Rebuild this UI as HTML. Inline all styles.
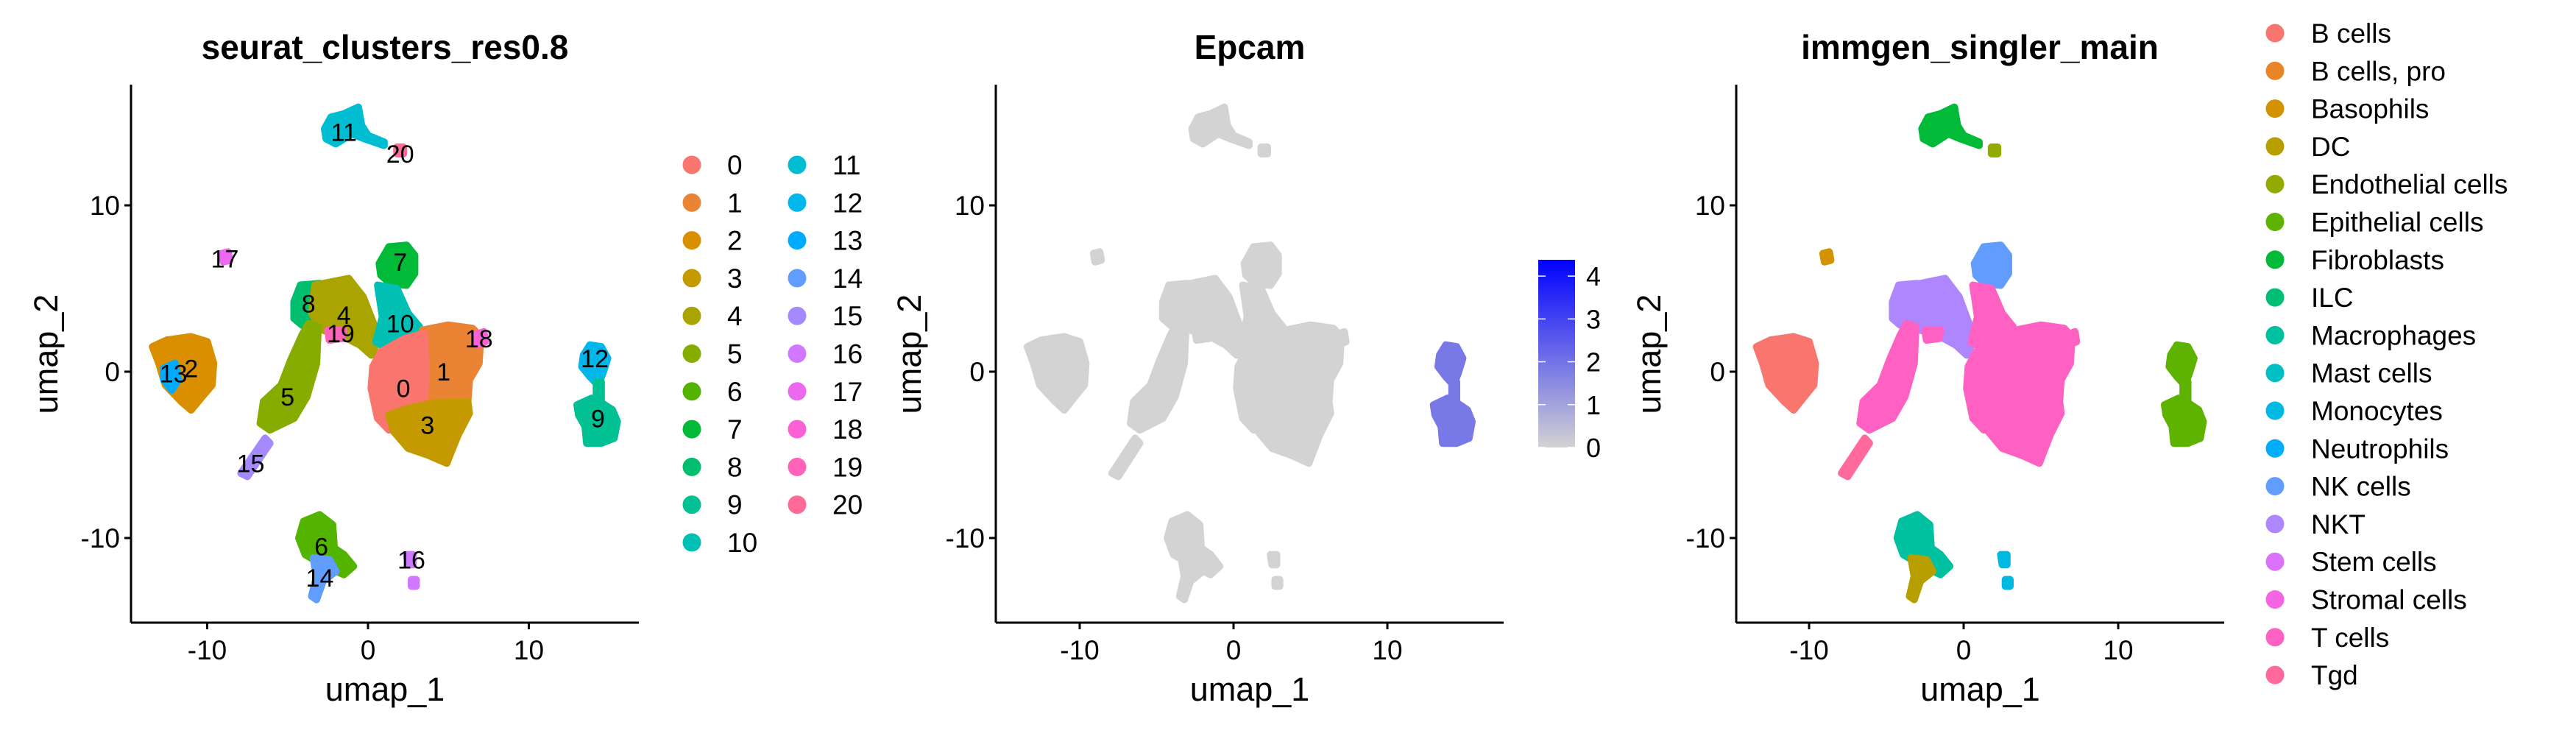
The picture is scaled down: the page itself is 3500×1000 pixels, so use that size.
<!DOCTYPE html>
<html><head><meta charset="utf-8"><style>
html,body{margin:0;padding:0;background:#fff}
svg{display:block;font-family:"Liberation Sans",Arial,sans-serif}
</style></head><body>
<svg id="fig" width="3500" height="1000" viewBox="0 0 3500 1000" xmlns="http://www.w3.org/2000/svg"></svg>
<script>
// ---- data ----
const clusterIds = ["0","1","2","3","4","5","6","7","8","9","10","11","12","13","14","15","16","17","18","19","20"];
const cellTypes = ["B cells","B cells, pro","Basophils","DC","Endothelial cells","Epithelial cells","Fibroblasts","ILC","Macrophages","Mast cells","Monocytes","Neutrophils","NK cells","NKT","Stem cells","Stromal cells","T cells","Tgd"];
const xTicks = [-10,0,10];
const yTicks = [-10,0,10];
const colorbarTicks = [0,1,2,3,4];
// cluster outlines in UMAP coordinates (cluster, polygon)
const shapeCluster = [2,13,11,20,17,7,8,4,10,5,15,1,0,3,18,19,12,9,9,6,14,16,16];
const shapePolys = [
 [[-13.4,1.5],[-12.5,1.9],[-11,2.1],[-10,1.8],[-9.6,0.5],[-9.7,-0.8],[-10.4,-1.6],[-11,-2.3],[-11.6,-1.8],[-12.6,-0.8],[-13,0.5]],
 [[-12.7,0.2],[-12,0.5],[-11.8,-0.5],[-12.2,-1.1],[-12.7,-0.5]],
 [[-2.7,14.6],[-2.3,15.3],[-1.5,15.5],[-0.6,15.9],[-0.4,14.8],[0,14.2],[1.0,13.8],[1.0,13.6],[-0.2,14.0],[-1,14.3],[-2,13.7],[-2.6,14.0]],
 [[1.8,13.5],[2.2,13.5],[2.2,13.1],[1.8,13.1]],
 [[-9.1,7.1],[-8.7,7.2],[-8.6,6.7],[-9.0,6.6]],
 [[0.7,6.5],[1.3,7.5],[2.4,7.6],[2.9,7.0],[2.9,5.9],[2.4,5.2],[1.4,5.3],[0.8,5.8]],
 [[-4.6,4.2],[-4.2,5.2],[-3.0,5.3],[-2.5,4.2],[-3.0,3.0],[-4.1,2.8],[-4.6,3.2]],
 [[-3.3,5.2],[-1.2,5.6],[-0.3,4.5],[0.7,2.0],[0.2,1.0],[-0.5,1.6],[-1.5,2.1],[-2.8,2.5],[-3.5,3.5]],
 [[0.6,5.2],[1.8,5.0],[2.5,3.5],[3.2,2.7],[3.0,1.6],[1.3,1.3],[0.5,1.8],[0.9,3.3]],
 [[-3.7,2.9],[-3.1,2.7],[-3.2,0.5],[-3.8,-1.5],[-4.6,-2.8],[-6.1,-3.5],[-6.7,-3.1],[-6.5,-1.8],[-5.4,-0.8],[-4.8,0.7],[-4.1,2.2]],
 [[-6.4,-4.0],[-6.1,-4.3],[-7.5,-6.3],[-7.9,-6.1]],
 [[3.4,2.5],[5,2.8],[6.5,2.6],[7,2.1],[6.9,0.5],[6.3,-0.5],[6.2,-1.8],[4.5,-2.2],[3.5,-1.8],[3.3,0.5]],
 [[0.8,1.2],[2.3,2.0],[3.5,2.3],[3.6,0],[3.5,-1.8],[2.2,-2.8],[1.3,-3.5],[0.6,-2.8],[0.2,-1.0],[0.3,0.3]],
 [[1.3,-2.6],[2.5,-2.2],[4,-1.9],[6.2,-1.8],[6.3,-2.5],[5.6,-3.8],[5.1,-5.0],[4.9,-5.5],[3.7,-5.0],[2.5,-4.6],[1.6,-3.6]],
 [[6.6,2.2],[7.2,2.4],[7.3,1.8],[6.8,1.6]],
 [[-2.5,2.5],[-1.5,2.5],[-1.6,2.0],[-2.4,1.9]],
 [[13.4,1.0],[13.8,1.6],[14.5,1.5],[14.9,0.8],[14.6,-0.1],[14.3,-0.8],[13.8,-0.3],[13.3,0.3]],
 [[13.0,-2.0],[13.9,-1.6],[14.4,-1.8],[15.2,-2.3],[15.5,-3.0],[15.3,-4.0],[14.5,-4.3],[13.6,-4.3],[13.5,-3.3],[13.1,-2.6]],
 [[14.2,-0.6],[14.5,-0.6],[14.5,-1.8],[14.2,-1.8]],
 [[-4.3,-10.0],[-4.0,-9.0],[-3.0,-8.6],[-2.2,-9.2],[-2.1,-10.6],[-1.5,-11.0],[-0.9,-11.7],[-1.5,-12.2],[-2.8,-11.6],[-3.9,-11.0]],
 [[-3.4,-11.2],[-2.4,-11.3],[-2.0,-12.0],[-2.8,-12.6],[-3.2,-13.7],[-3.5,-13.5],[-3.2,-12.3]],
 [[2.4,-11.0],[2.8,-11.0],[2.8,-11.6],[2.5,-11.6]],
 [[2.7,-12.5],[3.0,-12.5],[3.0,-12.9],[2.7,-12.9]]
];
// cluster -> cell type index (panel 3)
const clusterCellType = [16,16,0,16,13,16,8,12,13,5,16,6,5,0,3,17,10,2,16,16,4];
// cluster -> mean Epcam expression (panel 2)
const clusterEpcam = [0,0,0,0,0,0,0,0,0,1.9,0,0,1.9,0,0,0,0,0,0,0,0];
// cluster label positions
const labelCluster = [11,20,17,7,8,4,19,10,18,12,2,13,1,0,5,3,9,15,6,16,14];
const labelX = [-1.5,2,-8.9,2,-3.7,-1.5,-1.7,2,6.9,14.1,-11,-12.1,4.7,2.2,-5,3.7,14.3,-7.3,-2.9,2.7,-3];
const labelY = [14.4,13.1,6.8,6.6,4.1,3.4,2.3,2.9,2.0,0.8,0.2,-0.1,0,-1.0,-1.5,-3.2,-2.8,-5.5,-10.5,-11.3,-12.4];

// ---- helpers ----
const NS="http://www.w3.org/2000/svg", svg=document.getElementById('fig');
function el(tag,attrs,parent){const e=document.createElementNS(NS,tag);for(const k in attrs)e.setAttribute(k,attrs[k]);(parent||svg).appendChild(e);return e;}
function hcl(h,c,l){const r=h*Math.PI/180,u=c*Math.cos(r),v=c*Math.sin(r);const Xn=95.047,Yn=100,Zn=108.883;const d=Xn+15*Yn+3*Zn,un=4*Xn/d,vn=9*Yn/d;const Y=Yn*Math.pow((l+16)/116,3);const up=u/(13*l)+un,vp=v/(13*l)+vn;const X=Y*9*up/(4*vp),Z=Y*(12-3*up-20*vp)/(4*vp);const x=X/100,y=Y/100,z=Z/100;let R=3.2406*x-1.5372*y-0.4986*z,G=-0.9689*x+1.8758*y+0.0415*z,B=0.0557*x-0.2040*y+1.0570*z;const g=t=>{t=t<=0.0031308?12.92*t:1.055*Math.pow(t,1/2.4)-0.055;return Math.round(Math.max(0,Math.min(1,t))*255);};return `rgb(${g(R)},${g(G)},${g(B)})`;}
function huePal(n){const a=[];for(let i=0;i<n;i++)a.push(hcl(15+360*i/n,100,65));return a;}
const pal1=huePal(clusterIds.length), pal3=huePal(cellTypes.length);
function epCol(v){const t=Math.min(1,v/4.4);const a=[211,211,211],b=[0,0,255];return `rgb(${a.map((x,i)=>Math.round(x+(b[i]-x)*t)).join(',')})`;}

function panel(o){
  const g=el('g',{});
  const sx=v=>o.x0+v*o.kx, sy=v=>o.y0-v*o.ky;
  shapePolys.forEach((p,i)=>{const c=shapeCluster[i];const poly=el('polygon',{points:p.map(q=>sx(q[0]).toFixed(1)+','+sy(q[1]).toFixed(1)).join(' '),fill:o.color(c),stroke:o.color(c),'stroke-width':10,'stroke-linejoin':'round'},g);
    
    });
  el('line',{x1:o.ax,y1:115,x2:o.ax,y2:o.ay,stroke:'#000','stroke-width':3,},g);
  el('line',{x1:o.ax,y1:o.ay,x2:o.axEnd,y2:o.ay,stroke:'#000','stroke-width':3,},g);
  xTicks.forEach(t=>{el('line',{x1:sx(t),y1:o.ay,x2:sx(t),y2:o.ay+9,stroke:'#000','stroke-width':3},g);
    const tx=el('text',{x:sx(t),y:o.ay+50,'font-size':37,'text-anchor':'middle',fill:'#000'},g);tx.textContent=t;
    });
  yTicks.forEach(t=>{el('line',{x1:o.ax-9,y1:sy(t),x2:o.ax,y2:sy(t),stroke:'#000','stroke-width':3},g);
    const tx=el('text',{x:o.ax-15,y:sy(t)+13,'font-size':37,'text-anchor':'end',fill:'#000'},g);tx.textContent=t;
    });
  const xt=el('text',{x:(o.ax+o.axEnd)/2,y:952,'font-size':45,'text-anchor':'middle',},g);xt.textContent='umap_1';
  const yt=el('text',{x:o.ytx,y:481,'font-size':45,'text-anchor':'middle',transform:`rotate(-90 ${o.ytx} 481)`,},g);yt.textContent='umap_2';
  const tt=el('text',{x:o.tx,y:80,'font-size':46,'font-weight':'bold','text-anchor':'middle',},g);tt.textContent=o.title;
  return {g,sx,sy};
}

// Panel 1
const p1=panel({name:'panel-seurat-clusters',x0:500,kx:21.85,y0:505,ky:22.6,ax:178,ay:846,axEnd:868,ytx:78,tx:523,title:'seurat_clusters_res0.8',color:c=>pal1[c]});
labelCluster.forEach((c,i)=>{const t=el('text',{x:p1.sx(labelX[i]),y:p1.sy(labelY[i])+12,'font-size':34,'text-anchor':'middle',fill:'#000'},p1.g);t.textContent=clusterIds[c];
  });
clusterIds.forEach((id,i)=>{const col=i<11?0:1,row=i<11?i:i-11;const cx=940+col*143,cy=224+row*51.3;
  const lg=el('g',{},svg);
  el('circle',{cx:cx,cy:cy,r:12.5,fill:pal1[i]},lg);
  const t=el('text',{x:cx+48,y:cy+13,'font-size':37},lg);t.textContent=id;});

// Panel 2
const p2=panel({name:'panel-epcam',x0:1676,kx:20.9,y0:505,ky:22.6,ax:1353,ay:846,axEnd:2043,ytx:1251,tx:1698,title:'Epcam',color:c=>epCol(clusterEpcam[c])});
const defs=el('defs',{});const lgd=el('linearGradient',{id:'epg',x1:0,y1:1,x2:0,y2:0},defs);
el('stop',{offset:0,'stop-color':'#d3d3d3'},lgd);el('stop',{offset:1,'stop-color':'#0000ff'},lgd);
const cbTop=353,cbBot=608,cbMax=4.38;const cbY=v=>cbBot-(cbBot-cbTop)*v/cbMax;
el('rect',{x:2090,y:cbTop,width:50,height:cbBot-cbTop,fill:'url(#epg)',});
colorbarTicks.forEach(v=>{el('line',{x1:2090,y1:cbY(v),x2:2100,y2:cbY(v),stroke:'#fff','stroke-width':1.5});el('line',{x1:2130,y1:cbY(v),x2:2140,y2:cbY(v),stroke:'#fff','stroke-width':1.5});
  const t=el('text',{x:2155,y:cbY(v)+13,'font-size':36});t.textContent=v;});

// Panel 3
const p3=panel({name:'panel-immgen-singler',x0:2668,kx:21,y0:505,ky:22.6,ax:2359,ay:846,axEnd:3022,ytx:2256,tx:2690,title:'immgen_singler_main',color:c=>pal3[clusterCellType[c]]});
cellTypes.forEach((n,i)=>{const cx=3091,cy=45+i*51.3;
  const lg=el('g',{},svg);
  el('circle',{cx:cx,cy:cy,r:12.5,fill:pal3[i]},lg);
  const t=el('text',{x:cx+49,y:cy+13,'font-size':37},lg);t.textContent=n;});
</script>
</body></html>
